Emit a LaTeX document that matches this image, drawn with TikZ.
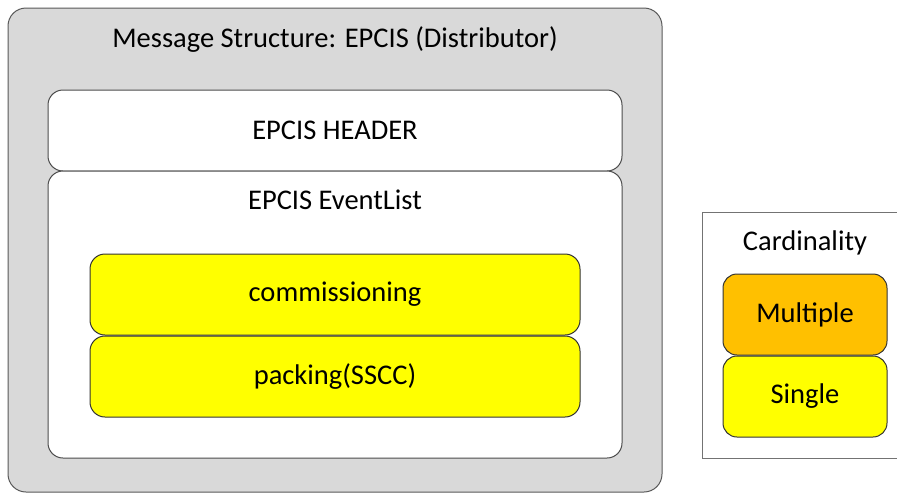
\documentclass[tikz,border=0pt]{standalone}
\usepackage{fontspec}
\setmainfont{Carlito}
\usetikzlibrary{positioning}

\definecolor{boxgray}{HTML}{D9D9D9}
\definecolor{multicol}{HTML}{FFC000}
\definecolor{singlecol}{HTML}{FFFF00}

\begin{document}
\begin{tikzpicture}[x=1pt,y=-1pt,font=\fontsize{28.5}{34}\selectfont,
                    line width=1pt]
  \tikzstyle{block}=[draw=black!70,rounded corners=15pt,minimum width=574pt,
                     minimum height=81pt,inner sep=0pt]
  \tikzstyle{event}=[block,fill=singlecol,draw=black!80,minimum width=490pt]
  \tikzstyle{legend}=[block,draw=black!80,rounded corners=14pt,
                      minimum width=164pt]

  \useasboundingbox (0,0) rectangle (897,496);
  \clip (0,0) rectangle (897,496);

  % message frame
  \node[draw=black!65,fill=boxgray,rounded corners=18pt,minimum width=654pt,
        minimum height=484pt] (msg) at (335,250) {};
  \node (msgtitle) at (335,40) {Message Structure: EPCIS (Distributor)};

  \node[block,fill=white] (header) at (335,130.5) {EPCIS HEADER};
  \node[block,fill=white,minimum height=287pt] (list) at (335,314.5) {};
  \node (listtitle) at (335,200) {EPCIS EventList};

  \node[event] (comm) at (335,294.5) {commissioning};
  \node[event] (pack) [below=0pt of comm] {packing(SSCC)};

  % legend
  \node[draw=black!55,fill=white,minimum width=210pt,minimum height=246pt,
        inner sep=0pt] (card) at (807,335) {};
  \node (cardtitle) at (805,243) {Cardinality};
  \node[legend,fill=multicol] (multi) at (805,314.5) {Multiple};
  \node[legend,fill=singlecol] (single) [below=0pt of multi] {Single};
\end{tikzpicture}
\end{document}
